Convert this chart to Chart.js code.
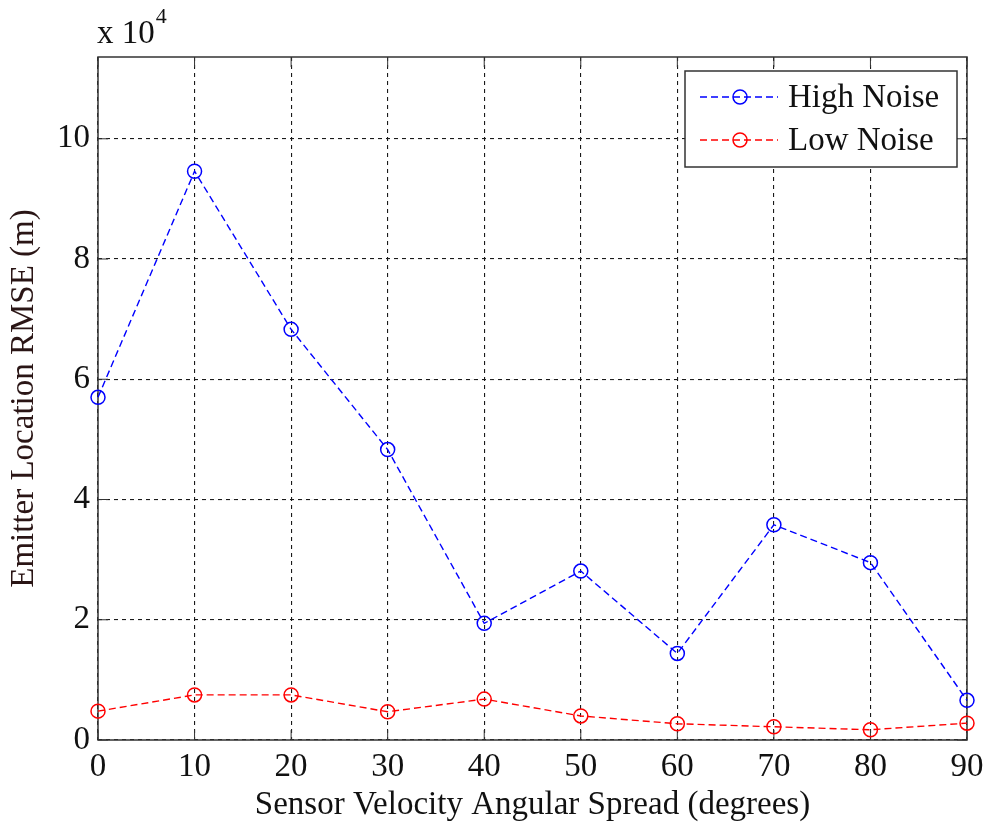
<!DOCTYPE html>
<html>
<head>
<meta charset="utf-8">
<title>Emitter Location RMSE</title>
<script src="https://cdn.jsdelivr.net/npm/chart.js@4/dist/chart.umd.min.js"></script>
<style>
  html, body { margin: 0; padding: 0; background: #fff; }
  #wrap { width: 987px; height: 826px; position: relative; }
</style>
</head>
<body>
<div id="wrap"><canvas id="rmse-chart"></canvas></div>
<script>
'use strict';

// angular spread of sensor velocities (degrees)
const spreadDeg = [0, 10, 20, 30, 40, 50, 60, 70, 80, 90];
// RMSE values, in units of 10^4 m
const highNoise = [5.70, 9.46, 6.83, 4.83, 1.94, 2.81, 1.44, 3.58, 2.95, 0.66];
const lowNoise = [0.48, 0.75, 0.75, 0.47, 0.68, 0.40, 0.27, 0.22, 0.17, 0.28];
const seriesNames = ['High Noise', 'Low Noise'];
const xTicks = [0, 10, 20, 30, 40, 50, 60, 70, 80, 90];
const yTicks = [0, 2, 4, 6, 8, 10];
const yMax = 11.36;

const SERIF = '"Liberation Serif", "Times New Roman", serif';
const AXIS_COLOR = '#333333';

const toPoints = (ys) => spreadDeg.map((x, i) => ({ x: x, y: ys[i] }));

function seriesStyle(color) {
  return {
    borderColor: color,
    backgroundColor: 'rgba(0,0,0,0)',
    borderWidth: 1.4,
    borderDash: [7, 4],
    pointStyle: 'circle',
    pointRadius: 7,
    pointHoverRadius: 7,
    pointBorderWidth: 1.5,
    pointBorderColor: color,
    pointBackgroundColor: 'rgba(0,0,0,0)',
    tension: 0,
    clip: false,
  };
}

// box around the plot, with matlab-style inward ticks on all four sides
const axesBox = {
  id: 'axesBox',
  beforeDatasetsDraw(chart) {
    const { ctx, chartArea: a, scales } = chart;
    const tick = 10;
    ctx.save();
    ctx.strokeStyle = AXIS_COLOR;
    ctx.lineWidth = 1.5;
    ctx.setLineDash([]);
    ctx.strokeRect(a.left, a.top, a.right - a.left, a.bottom - a.top);
    ctx.lineWidth = 1;
    ctx.beginPath();
    xTicks.forEach((v) => {
      const px = scales.x.getPixelForValue(v);
      ctx.moveTo(px, a.bottom); ctx.lineTo(px, a.bottom - tick);
      ctx.moveTo(px, a.top); ctx.lineTo(px, a.top + tick);
    });
    yTicks.forEach((v) => {
      const py = scales.y.getPixelForValue(v);
      ctx.moveTo(a.left, py); ctx.lineTo(a.left + tick, py);
      ctx.moveTo(a.right, py); ctx.lineTo(a.right - tick, py);
    });
    ctx.stroke();

    // exponent label above the y axis
    ctx.fillStyle = '#111';
    ctx.textBaseline = 'alphabetic';
    ctx.textAlign = 'left';
    ctx.font = '33px ' + SERIF;
    ctx.fillText('x 10', a.left - 1, a.top - 14);
    const w = ctx.measureText('x 10').width;
    ctx.font = '22px ' + SERIF;
    ctx.fillText('4', a.left - 1 + w + 1, a.top - 34);
    ctx.restore();
  },
};

// legend box in the upper right corner of the plot
const boxLegend = {
  id: 'boxLegend',
  afterDatasetsDraw(chart) {
    const { ctx, chartArea: a } = chart;
    const right = a.right - 10;
    const top = a.top + 14;
    const width = 272;
    const height = 96;
    const left = right - width;
    ctx.save();
    ctx.fillStyle = '#fff';
    ctx.fillRect(left, top, width, height);
    ctx.strokeStyle = AXIS_COLOR;
    ctx.lineWidth = 1.5;
    ctx.setLineDash([]);
    ctx.strokeRect(left, top, width, height);

    chart.data.datasets.forEach((ds, i) => {
      const y = top + 26 + i * 43;
      ctx.strokeStyle = ds.borderColor;
      ctx.lineWidth = 1.4;
      ctx.setLineDash([7, 4]);
      ctx.beginPath();
      ctx.moveTo(left + 15, y);
      ctx.lineTo(left + 93, y);
      ctx.stroke();
      ctx.setLineDash([]);
      ctx.lineWidth = 1.5;
      ctx.beginPath();
      ctx.arc(left + 55, y, 7, 0, Math.PI * 2);
      ctx.stroke();

      ctx.fillStyle = '#111';
      ctx.font = '33px ' + SERIF;
      ctx.textAlign = 'left';
      ctx.textBaseline = 'middle';
      ctx.fillText(ds.label, left + 103, y + 1);
    });
    ctx.restore();
  },
};

document.addEventListener('DOMContentLoaded', () => {
  const canvas = document.getElementById('rmse-chart');

  new Chart(canvas, {
    type: 'line',
    data: {
      datasets: [
        Object.assign({ label: seriesNames[0], data: toPoints(highNoise) }, seriesStyle('#0000ff')),
        Object.assign({ label: seriesNames[1], data: toPoints(lowNoise) }, seriesStyle('#ff0000')),
      ],
    },
    options: {
      responsive: true,
      maintainAspectRatio: false,
      animation: false,
      layout: {
        padding: { top: 57, right: 20, left: 0, bottom: 0 },
      },
      plugins: {
        legend: { display: false },
        tooltip: { enabled: false },
      },
      scales: {
        x: {
          type: 'linear',
          min: 0,
          max: 90,
          afterBuildTicks: (scale) => {
            scale.ticks = xTicks.map((v) => ({ value: v }));
          },
          afterFit: (scale) => {
            scale.height = 86;
            // let the end labels hang over the plot edges
            scale.paddingLeft = 0;
            scale.paddingRight = 0;
          },
          grid: {
            color: '#1a1a1a',
            lineWidth: 1.1,
            drawTicks: false,
          },
          border: { display: false, dash: [4, 4] },
          ticks: {
            color: '#111',
            padding: 8,
            maxRotation: 0,
            autoSkip: false,
            font: { family: SERIF, size: 33 },
          },
          title: {
            display: true,
            text: 'Sensor Velocity Angular Spread (degrees)',
            color: '#111',
            font: { family: SERIF, size: 33 },
            padding: { top: 0, bottom: 1 },
          },
        },
        y: {
          type: 'linear',
          min: 0,
          max: yMax,
          afterBuildTicks: (scale) => {
            scale.ticks = yTicks.map((v) => ({ value: v }));
          },
          afterFit: (scale) => {
            scale.width = 98;
            scale.paddingTop = 0;
            scale.paddingBottom = 0;
          },
          grid: {
            color: '#1a1a1a',
            lineWidth: 1.1,
            drawTicks: false,
          },
          border: { display: false, dash: [4, 4] },
          ticks: {
            color: '#111',
            padding: 8,
            font: { family: SERIF, size: 33 },
          },
          title: {
            display: true,
            text: 'Emitter Location RMSE (m)',
            color: '#2a1515',
            font: { family: SERIF, size: 33 },
            padding: { top: 5, bottom: 0 },
          },
        },
      },
    },
    plugins: [axesBox, boxLegend],
  });
});
</script>
</body>
</html>
